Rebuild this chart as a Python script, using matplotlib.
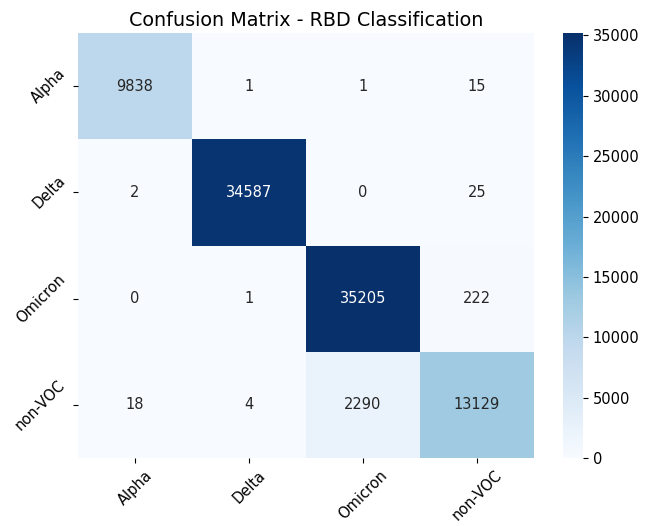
import numpy as np
import matplotlib
matplotlib.use("Agg")
import matplotlib.pyplot as plt
import seaborn as sns

labels = ["Alpha", "Delta", "Omicron", "non-VOC"]
row_alpha = [9838, 1, 1, 15]
row_delta = [2, 34587, 0, 25]
row_omicron = [0, 1, 35205, 222]
row_nonvoc = [18, 4, 2290, 13129]

cm = np.array([row_alpha, row_delta, row_omicron, row_nonvoc])

W, H = 646, 526
fig = plt.figure(figsize=(W / 100, H / 100), dpi=100)
ax = fig.add_axes([78 / W, (H - 458) / H, (534 - 78) / W, (458 - 33) / H])
cax = fig.add_axes([563 / W, (H - 458) / H, 20 / W, (458 - 33) / H])

sns.heatmap(cm, annot=True, fmt="d", cmap="Blues",
            xticklabels=labels, yticklabels=labels,
            ax=ax, cbar_ax=cax, annot_kws={"size": 10.5})
ax.set_title("Confusion Matrix - RBD Classification", fontsize=13.8, pad=5)
plt.setp(ax.get_xticklabels(), rotation=45)
plt.setp(ax.get_yticklabels(), rotation=45)
ax.tick_params(labelsize=10.5)
cax.tick_params(labelsize=10.5)

fig.savefig("out.png", dpi=100)
